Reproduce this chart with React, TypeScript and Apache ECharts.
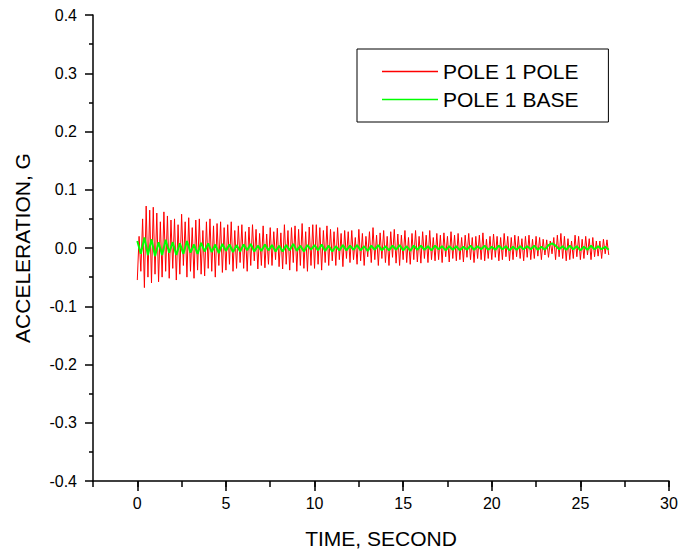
import React, { useEffect, useRef } from "react";
import * as echarts from "echarts";

// Sample interval (seconds) of each recorded channel
const POLE_DT = 0.1;
const BASE_DT = 0.2;

// POLE 1 POLE acceleration (G), one row per second
const polePole: number[] = [
  -0.055, 0.02, -0.04, 0.05, -0.068, 0.072, -0.05, 0.065, -0.06, 0.07,
  -0.045, 0.06, -0.058, 0.045, -0.05, 0.062, -0.04, 0.055, -0.052, 0.048,
  -0.035, 0.05, -0.055, 0.04, -0.045, 0.058, -0.03, 0.045, -0.05, 0.052,
  -0.04, 0.035, -0.052, 0.048, -0.038, 0.05, -0.045, 0.03, -0.048, 0.045,
  -0.035, 0.05, -0.04, 0.038, -0.05, 0.042, -0.03, 0.045, -0.042, 0.035,
  -0.038, 0.04, -0.028, 0.045, -0.04, 0.03, -0.035, 0.038, -0.025, 0.04,
  -0.035, 0.028, -0.04, 0.036, -0.03, 0.04, -0.022, 0.032, -0.036, 0.025,
  -0.03, 0.038, -0.034, 0.024, -0.028, 0.035, -0.03, 0.028, -0.02, 0.034,
  -0.032, 0.026, -0.036, 0.04, -0.028, 0.03, -0.038, 0.035, -0.025, 0.038,
  -0.04, 0.032, -0.03, 0.042, -0.035, 0.028, -0.04, 0.036, -0.03, 0.04,
  -0.035, 0.04, -0.028, 0.035, -0.038, 0.03, -0.025, 0.038, -0.03, 0.032,
  -0.022, 0.028, -0.03, 0.035, -0.02, 0.025, -0.032, 0.03, -0.018, 0.028,
  -0.025, 0.03, -0.02, 0.018, -0.028, 0.032, -0.022, 0.025, -0.03, 0.02,
  -0.015, 0.028, -0.025, 0.035, -0.02, 0.022, -0.03, 0.026, -0.018, 0.03,
  -0.025, 0.02, -0.03, 0.028, -0.016, 0.032, -0.026, 0.024, -0.03, 0.022,
  -0.02, 0.03, -0.025, 0.018, -0.028, 0.025, -0.02, 0.03, -0.024, 0.02,
  -0.026, 0.028, -0.018, 0.022, -0.025, 0.03, -0.02, 0.018, -0.022, 0.025,
  -0.02, 0.022, -0.025, 0.026, -0.015, 0.02, -0.024, 0.028, -0.018, 0.022,
  -0.022, 0.025, -0.02, 0.018, -0.024, 0.022, -0.016, 0.025, -0.02, 0.018,
  -0.025, 0.02, -0.018, 0.022, -0.02, 0.026, -0.022, 0.015, -0.018, 0.02,
  -0.02, 0.024, -0.016, 0.02, -0.022, 0.018, -0.02, 0.025, -0.015, 0.02,
  -0.022, 0.018, -0.02, 0.022, -0.015, 0.02, -0.018, 0.016, -0.022, 0.02,
  -0.016, 0.022, -0.02, 0.015, -0.018, 0.02, -0.014, 0.018, -0.02, 0.015,
  -0.012, 0.014, -0.016, 0.012, -0.01, 0.018, -0.02, 0.022, -0.015, 0.025,
  -0.018, 0.02, -0.022, 0.016, -0.02, 0.012, -0.018, 0.022, -0.015, 0.02,
  -0.02, 0.015, -0.018, 0.02, -0.012, 0.016, -0.02, 0.018, -0.015, 0.012,
  -0.014, 0.012, -0.018, 0.015, -0.01, 0.014, -0.012,
];

// POLE 1 BASE acceleration (G), one row per two seconds
const poleBase: number[] = [
  0.012, -0.01, 0.018, -0.012, 0.015, -0.014, 0.01, -0.012, 0.014, -0.008,
  0.01, -0.012, 0.008, -0.01, 0.012, -0.008, 0.006, -0.01, 0.009, -0.006,
  0.008, -0.007, 0.006, -0.009, 0.007, -0.005, 0.006, -0.007, 0.005, -0.006,
  0.006, -0.004, 0.007, -0.006, 0.004, -0.005, 0.006, -0.004, 0.005, -0.006,
  0.004, -0.006, 0.005, -0.004, 0.007, -0.005, 0.004, -0.006, 0.005, -0.003,
  0.005, -0.004, 0.006, -0.005, 0.004, -0.006, 0.003, -0.004, 0.005, -0.004,
  0.004, -0.003, 0.005, -0.004, 0.003, -0.005, 0.004, -0.003, 0.005, -0.004,
  0.003, -0.004, 0.004, -0.003, 0.005, -0.004, 0.003, -0.005, 0.004, -0.003,
  0.004, -0.003, 0.003, -0.004, 0.004, -0.002, 0.003, -0.004, 0.003, -0.003,
  0.003, -0.004, 0.002, -0.003, 0.004, -0.003, 0.003, -0.002, 0.004, -0.003,
  0.002, -0.003, 0.004, -0.002, 0.003, -0.004, 0.002, -0.003, 0.003, -0.002,
  0.003, -0.002, 0.004, -0.003, 0.002, -0.003, 0.005, 0.008, 0.004, -0.002,
  0.003, -0.003, 0.004, -0.002, 0.003, -0.004, 0.002, -0.003, 0.004, -0.002,
  0.003, -0.002, 0.002, -0.003,
];

// X axis tick positions -2.5 .. 30 every 2.5; labels only on the major ones
const xTickLabels: string[] = ["", "0", "", "5", "", "10", "", "15", "", "20", "", "25", "", "30"];
const xMin = -2.5;
const xMax = 30;
const yMin = -0.4;
const yMax = 0.4;

const seriesNames = ["POLE 1 POLE", "POLE 1 BASE"];
const seriesColors = ["#ff0000", "#00ff00"];
const FONT = "'Liberation Sans', Arial, sans-serif";

export default function App() {
  const ref = useRef<HTMLDivElement>(null);
  useEffect(() => {
    if (!ref.current) return;
    const chart = echarts.init(ref.current, undefined, { renderer: "svg" });
    const poleData = polePole.map((v, i) => [+(i * POLE_DT).toFixed(2), v]);
    const baseData = poleBase.map((v, i) => [+(i * BASE_DT).toFixed(2), v]);
    chart.setOption({
      animation: false,
      backgroundColor: "#ffffff",
      textStyle: { fontFamily: FONT, color: "#000" },
      grid: { left: 93, right: 13, top: 15, bottom: 74 },
      legend: {
        orient: "vertical",
        left: 357,
        top: 49,
        padding: [12, 30, 12, 25],
        itemGap: 7,
        itemWidth: 56,
        itemHeight: 1.5,
        icon: "rect",
        borderColor: "#000",
        borderWidth: 1,
        backgroundColor: "#fff",
        data: seriesNames,
        textStyle: { fontFamily: FONT, fontSize: 21, color: "#000", lineHeight: 20 },
      },
      xAxis: [
        {
          type: "value",
          min: xMin,
          max: xMax,
          interval: 2.5,
          position: "bottom",
          axisLine: { show: false, onZero: false },
          axisTick: { show: true, length: 6, lineStyle: { color: "#000", width: 1.5 } },
          axisLabel: { show: false },
          splitLine: { show: false },
        },
        {
          type: "category",
          data: xTickLabels,
          boundaryGap: false,
          position: "bottom",
          name: "TIME, SECOND",
          nameLocation: "middle",
          nameGap: 47,
          nameTextStyle: { fontFamily: FONT, fontSize: 21, color: "#000" },
          axisLine: { show: true, onZero: false, lineStyle: { color: "#000", width: 1.5 } },
          axisTick: {
            show: true,
            length: 10,
            interval: (index: number) => index % 2 === 1,
            lineStyle: { color: "#000", width: 1.5 },
          },
          axisLabel: { interval: 0, margin: 14, fontSize: 16, color: "#000", fontFamily: FONT },
          splitLine: { show: false },
        },
      ],
      yAxis: {
        type: "value",
        min: yMin,
        max: yMax,
        interval: 0.1,
        name: "ACCELERATION, G",
        nameLocation: "middle",
        nameGap: 60,
        nameTextStyle: { fontFamily: FONT, fontSize: 21, color: "#000" },
        axisLine: { show: true, onZero: false, lineStyle: { color: "#000", width: 1.5 } },
        axisTick: { show: true, length: 8, lineStyle: { color: "#000", width: 1.5 } },
        minorTick: { show: true, splitNumber: 2, length: 4, lineStyle: { color: "#000", width: 1.5 } },
        axisLabel: {
          margin: 16,
          fontSize: 16,
          color: "#000",
          fontFamily: FONT,
          formatter: (v: number) => v.toFixed(1),
        },
        splitLine: { show: false },
      },
      series: [
        {
          name: seriesNames[0],
          type: "line",
          xAxisIndex: 0,
          data: poleData,
          symbol: "none",
          lineStyle: { color: seriesColors[0], width: 1 },
          itemStyle: { color: seriesColors[0] },
        },
        {
          name: seriesNames[1],
          type: "line",
          xAxisIndex: 0,
          data: baseData,
          symbol: "none",
          lineStyle: { color: seriesColors[1], width: 2 },
          itemStyle: { color: seriesColors[1] },
        },
      ],
    });
    return () => chart.dispose();
  }, []);
  return (
    <div
      ref={ref}
      style={{ position: "fixed", left: 0, top: 0, width: 682, height: 555, background: "#fff" }}
    />
  );
}
